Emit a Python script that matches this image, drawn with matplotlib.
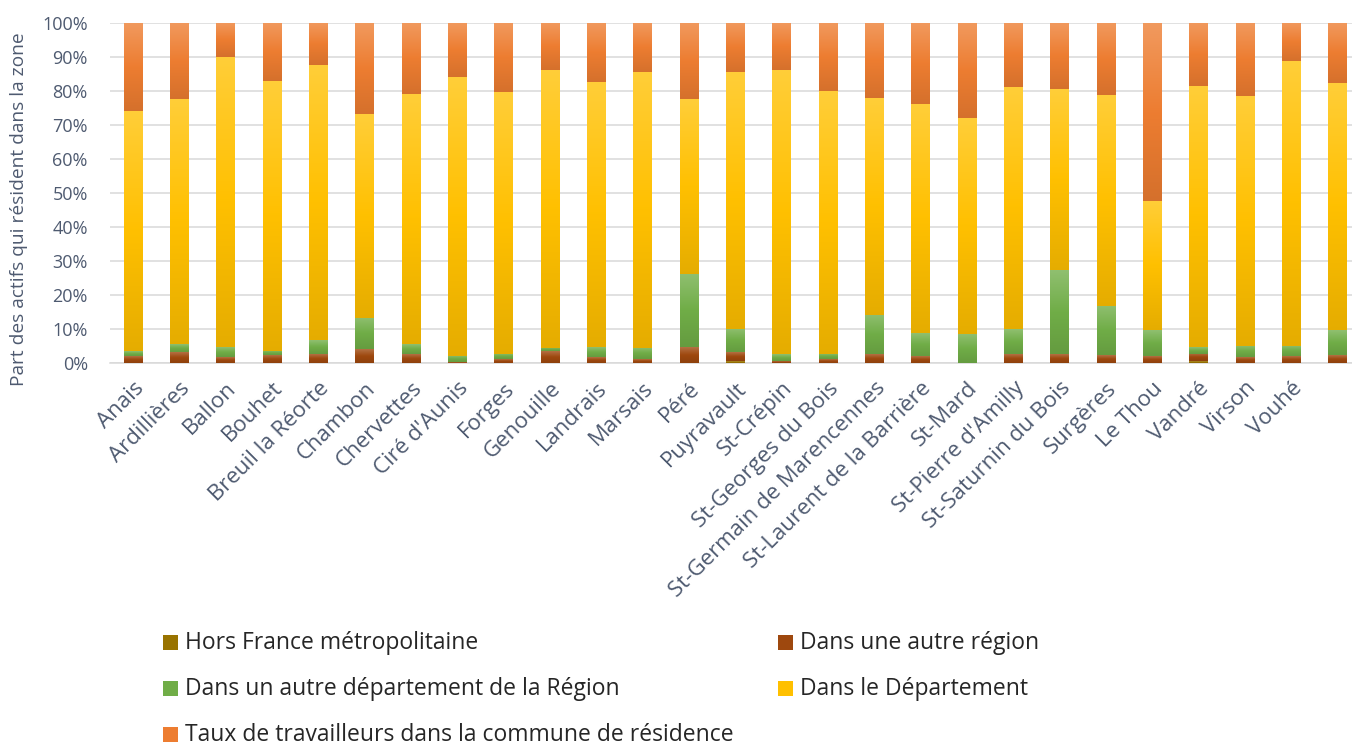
import matplotlib.pyplot as plt
import matplotlib.colors as mcolors
from matplotlib.patches import Rectangle
import numpy as np

plt.rcParams['font.family'] = ['Open Sans', 'DejaVu Sans']

communes = ['Anais', 'Ardillières', 'Ballon', 'Bouhet', 'Breuil la Réorte', 'Chambon',
            'Chervettes', "Ciré d'Aunis", 'Forges', 'Genouille', 'Landrais', 'Marsais',
            'Péré', 'Puyravault', 'St-Crépin', 'St-Georges du Bois',
            'St-Germain de Marencennes', 'St-Laurent de la Barrière', 'St-Mard',
            "St-Pierre d'Amilly", 'St-Saturnin du Bois', 'Surgères', 'Le Thou',
            'Vandré', 'Virson', 'Vouhé', '']

# parts en %, du bas vers le haut de chaque barre
hors_france = [0, 0, 0, 0, 0, 0, 0, 0, 0, 0, 0, 0, 0, 0.4, 0, 0, 0, 0, 0, 0, 0, 0, 0,
               0.4, 0, 0, 0]
autre_region = [2.0, 3.0, 1.6, 2.2, 2.4, 3.9, 2.4, 0.2, 0.9, 3.3, 1.6, 0.9, 4.5, 2.6,
                0.5, 0.9, 2.4, 2.0, 0.0, 2.6, 2.6, 2.2, 1.9, 2.2, 1.5, 1.9, 2.2]
autre_dept = [1.4, 2.3, 2.9, 1.2, 4.1, 9.3, 2.9, 1.8, 1.5, 0.9, 2.9, 3.3, 21.6, 6.8,
              1.9, 1.5, 11.5, 6.7, 8.3, 7.2, 24.6, 14.5, 7.6, 1.9, 3.4, 3.0, 7.3]
departement = [70.6, 72.3, 85.3, 79.5, 80.9, 59.9, 73.8, 82.0, 77.1, 81.7, 78.1, 81.3,
               51.4, 75.7, 83.5, 77.4, 64.0, 67.3, 63.7, 71.2, 53.1, 62.0, 38.0, 76.9,
               73.4, 83.8, 72.7]
commune_residence = [26.0, 22.4, 10.2, 17.1, 12.6, 26.9, 20.9, 16.0, 20.5, 14.1, 17.4,
                     14.5, 22.5, 14.5, 14.1, 20.2, 22.1, 24.0, 28.0, 19.0, 19.7, 21.3,
                     52.5, 18.6, 21.7, 11.3, 17.8]

series = [
    ('Hors France métropolitaine', hors_france, '#997300'),
    ('Dans une autre région', autre_region, '#9E480E'),
    ('Dans un autre département de la Région', autre_dept, '#70AD47'),
    ('Dans le Département', departement, '#FFC000'),
    ('Taux de travailleurs dans la commune de résidence', commune_residence, '#ED7D31'),
]

W, H = 1352, 747
fig = plt.figure(figsize=(W / 100, H / 100), dpi=100)
ax = fig.add_axes([110 / W, 1 - 362.5 / H, (1361 - 110) / W, 340 / H])

txt_col = '#4E5A70'


def gradient(color):
    base = np.array(mcolors.to_rgb(color))
    top = base + (1 - base) * 0.22
    bot = base * 0.9
    t = np.linspace(0, 1, 64)[:, None]
    g = np.where(t < 0.5, top + (base - top) * (t / 0.5), base + (bot - base) * ((t - 0.5) / 0.5))
    return g[:, None, :]


x = np.arange(len(communes))
bottom = np.zeros(len(communes))
for name, vals, col in series:
    vals = np.array(vals, dtype=float)
    bars = ax.bar(x, vals, 0.41, bottom=bottom, color=col, zorder=2, linewidth=0)
    img = gradient(col)
    for p in bars:
        if p.get_height() <= 0:
            continue
        x0, y0 = p.get_x(), p.get_y()
        ax.imshow(img, extent=[x0, x0 + p.get_width(), y0, y0 + p.get_height()],
                  aspect='auto', zorder=3, interpolation='bilinear')
    bottom += vals

ax.set_xlim(-0.5, len(communes) - 0.5)
ax.set_ylim(0, 100)
ax.set_yticks(np.arange(0, 101, 10))
ax.set_yticklabels([f'{v}%' for v in range(0, 101, 10)])
ax.yaxis.grid(True, color='#D9D9D9', linewidth=1.1, zorder=0)
ax.set_axisbelow(True)
for s in ['top', 'right', 'left']:
    ax.spines[s].set_visible(False)
ax.spines['bottom'].set_color('#D9D9D9')
ax.spines['bottom'].set_linewidth(1.1)
ax.tick_params(axis='y', length=0, pad=16, labelsize=13, labelcolor=txt_col)
ax.tick_params(axis='x', length=0, pad=11, labelsize=16, labelcolor=txt_col)
ax.set_xticks(x)
ax.set_xticklabels(communes, rotation=45, ha='right', rotation_mode='anchor')
ax.set_ylabel('Part des actifs qui résident dans la zone', fontsize=13.8,
              color=txt_col)
ax.yaxis.set_label_coords(-82 / (1361 - 110), 0.45)

# légende sur deux colonnes, remplie ligne par ligne
slots = [(163, 642), (778, 642), (163, 688), (778, 688), (163, 734)]
for (name, vals, col), (px, py) in zip(series, slots):
    fig.patches.append(Rectangle((px / W, 1 - (py + 7.5) / H), 15 / W, 15 / H,
                                 transform=fig.transFigure, facecolor=col,
                                 edgecolor='none'))
    fig.text((px + 22) / W, 1 - (py + 1) / H, name, fontsize=16.5, color='#262626',
             va='center', ha='left')

fig.savefig('out.png', dpi=100)
